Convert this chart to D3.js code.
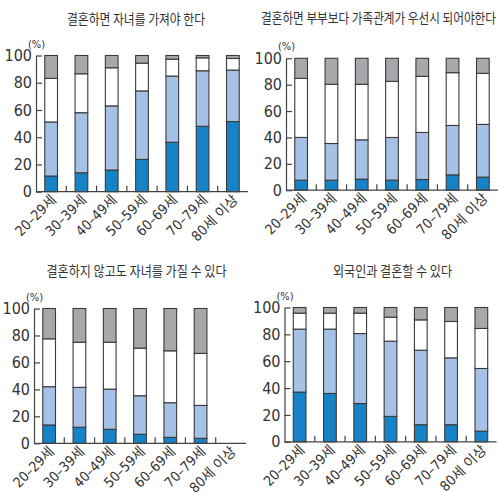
<!DOCTYPE html>
<html>
<head>
<meta charset="utf-8">
<script src="https://cdn.jsdelivr.net/npm/d3@7"></script>
<style>
  body { margin: 0; background: #fff; }
  svg { display: block; }
  text { fill: #333; }
</style>
</head>
<body>
<svg id="chart" width="498" height="492"></svg>
<script>
// age groups on the x axis
const ages = ["20–29세", "30–39세", "40–49세", "50–59세", "60–69세", "70–79세", "80세 이상"];
const yTicks = [0, 20, 40, 60, 80, 100];

// stacked segments, bottom to top (dark blue, light blue, white, gray); values in %
const titles = [
  "결혼하면 자녀를 가져야 한다",
  "결혼하면 부부보다 가족관계가 우선시 되어야한다",
  "결혼하지 않고도 자녀를 가질 수 있다",
  "외국인과 결혼할 수 있다"
];

const chart1Dark  = [11.5, 13.9, 15.9, 23.7, 36.3, 48.0, 51.5];
const chart1Light = [39.7, 44.1, 47.1, 50.3, 48.6, 40.8, 37.8];
const chart1White = [32.0, 28.6, 28.0, 20.4, 12.4, 9.5, 8.5];
const chart1Gray  = [16.8, 13.4, 9.0, 5.6, 2.7, 1.7, 2.2];

const chart2Dark  = [7.6, 7.6, 8.4, 7.6, 8.1, 11.6, 9.9];
const chart2Light = [32.4, 27.8, 29.8, 32.4, 35.7, 37.5, 40.0];
const chart2White = [44.8, 44.9, 42.1, 42.5, 42.5, 40.0, 38.7];
const chart2Gray  = [15.2, 19.7, 19.7, 17.5, 13.7, 10.9, 11.4];

// no bar for 80세 이상 in this one
const chart3Dark  = [13.6, 11.9, 10.4, 6.7, 4.4, 3.7, null];
const chart3Light = [28.4, 29.6, 29.8, 28.6, 25.7, 24.4, null];
const chart3White = [35.5, 33.5, 34.8, 35.3, 38.5, 38.6, null];
const chart3Gray  = [22.5, 25.0, 25.0, 29.4, 31.4, 33.3, null];

const chart4Dark  = [37.0, 36.0, 28.5, 18.9, 12.7, 12.7, 7.9];
const chart4Light = [46.9, 47.9, 52.1, 56.0, 55.5, 49.8, 46.7];
const chart4White = [11.9, 11.9, 15.2, 17.9, 22.6, 27.1, 29.8];
const chart4Gray  = [4.2, 4.2, 4.2, 7.2, 9.2, 10.4, 15.6];

const colors = ["#1683c6", "#a5c1e5", "#ffffff", "#a7a8ac"];

const panels = [
  {title: titles[0], series: [chart1Dark, chart1Light, chart1White, chart1Gray],
   x0: 36, y0: 191.7, y1: 55.5, titleX: 136, titleY: 24, titleW: 138},
  {title: titles[1], series: [chart2Dark, chart2Light, chart2White, chart2Gray],
   x0: 286, y0: 190.2, y1: 58.3, titleX: 378.5, titleY: 23, titleW: 235},
  {title: titles[2], series: [chart3Dark, chart3Light, chart3White, chart3Gray],
   x0: 34, y0: 443.3, y1: 308.5, titleX: 136.5, titleY: 276, titleW: 180},
  {title: titles[3], series: [chart4Dark, chart4Light, chart4White, chart4Gray],
   x0: 284.5, y0: 441.8, y1: 307.5, titleX: 392.5, titleY: 276, titleW: 119}
];

const svg = d3.select("#chart");
const numFont = "'Liberation Sans Narrow', 'DejaVu Sans Condensed', 'Noto Sans CJK KR', sans-serif";
const korFont = "'Noto Sans CJK KR', sans-serif";

panels.forEach(function (p) {
  const g = svg.append("g");

  const x = d3.scaleBand()
    .domain(ages)
    .range([p.x0, p.x0 + 212])
    .paddingInner(0.58)
    .paddingOuter(0.29);

  const y = d3.scaleLinear().domain([0, 100]).range([p.y0, p.y1]);

  // title
  g.append("text")
    .attr("x", p.titleX)
    .attr("y", p.titleY)
    .attr("text-anchor", "middle")
    .attr("textLength", p.titleW)
    .attr("lengthAdjust", "spacingAndGlyphs")
    .style("font-family", korFont)
    .style("font-size", "13.5px")
    .style("fill", "#333")
    .text(p.title);

  // (%) unit
  g.append("text")
    .attr("x", p.x0 - 8)
    .attr("y", p.y1 - 8)
    .style("font-family", numFont)
    .style("font-size", "11px")
    .text("(%)");

  // stacked bars
  const rows = ages.map(function (a, i) {
    const r = {age: a};
    p.series.forEach(function (s, k) { r["s" + k] = s[i]; });
    return r;
  }).filter(function (r) { return r.s0 != null; });

  const stack = d3.stack().keys(["s0", "s1", "s2", "s3"]);
  const layers = stack(rows);

  g.selectAll("g.layer")
    .data(layers)
    .join("g")
    .attr("class", "layer")
    .attr("fill", function (d, i) { return colors[i]; })
    .selectAll("rect")
    .data(function (d) { return d; })
    .join("rect")
    .attr("x", function (d) { return x(d.data.age); })
    .attr("y", function (d) { return y(d[1]); })
    .attr("width", x.bandwidth())
    .attr("height", function (d) { return y(d[0]) - y(d[1]); })
    .attr("stroke", "#3a3a3a")
    .attr("stroke-width", 1.1);

  // y axis, ticks pointing inward
  const yAxis = g.append("g")
    .attr("transform", "translate(" + p.x0 + ",0)")
    .call(d3.axisLeft(y).tickValues(yTicks).tickSize(-6).tickSizeOuter(0).tickPadding(4));
  yAxis.select(".domain").attr("stroke", "#444").attr("stroke-width", 1.2);
  yAxis.selectAll(".tick line").attr("stroke", "#444").attr("stroke-width", 1.2);
  yAxis.selectAll(".tick text")
    .style("font-family", numFont)
    .style("font-size", "16px")
    .style("fill", "#333");

  // x axis line
  g.append("line")
    .attr("x1", p.x0).attr("x2", p.x0 + 212)
    .attr("y1", p.y0).attr("y2", p.y0)
    .attr("stroke", "#444").attr("stroke-width", 1.2);

  // separator ticks between groups, pointing up
  const step = x.step();
  g.selectAll("line.sep")
    .data(ages.slice(1))
    .join("line")
    .attr("class", "sep")
    .attr("x1", function (d) { return x(d) - (step - x.bandwidth()) / 2; })
    .attr("x2", function (d) { return x(d) - (step - x.bandwidth()) / 2; })
    .attr("y1", p.y0).attr("y2", p.y0 - 6)
    .attr("stroke", "#444").attr("stroke-width", 1.2);

  // rotated labels
  g.selectAll("text.age")
    .data(ages)
    .join("text")
    .attr("class", "age")
    .attr("text-anchor", "end")
    .attr("transform", function (d) {
      return "translate(" + (x(d) + x.bandwidth() / 2 + 6) + "," + (p.y0 + 9) + ") rotate(-45)";
    })
    .style("font-family", numFont)
    .style("font-size", "14px")
    .text(function (d) { return d; });
});
</script>
</body>
</html>
